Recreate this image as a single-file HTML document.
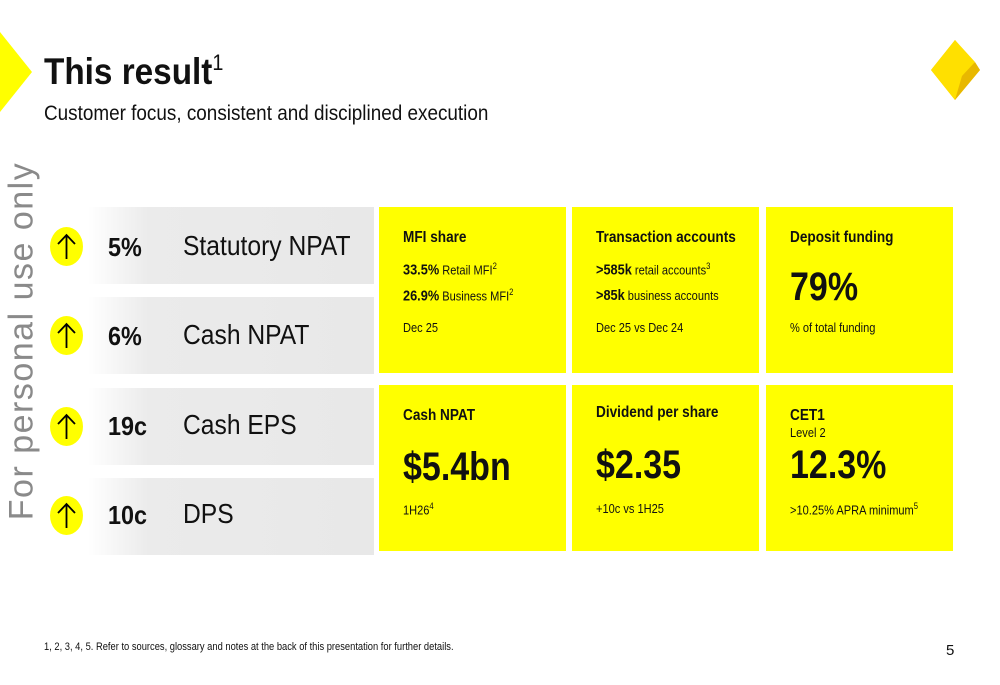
<!DOCTYPE html>
<html><head><meta charset="utf-8"><style>
body{margin:0;width:1000px;height:685px;background:#fff;position:relative;overflow:hidden;font-family:"Liberation Sans",sans-serif;color:#111}
.abs{position:absolute}
.row{position:absolute;left:88px;width:286px;height:77px;background:linear-gradient(90deg,#fff 0px,#ebebeb 60px,#e8e8e8 100%)}
.circ{position:absolute;left:50px;width:33px;height:39px}
.num{position:absolute;left:108px;font-weight:bold;font-size:26px;transform:scaleX(.9);transform-origin:left}
.lab{position:absolute;left:183px;font-size:28px;transform:scaleX(.88);transform-origin:left;color:#111}
.card{position:absolute;background:#ffff00;width:187px;height:166px}
.card div{white-space:nowrap;transform:scaleX(.85);transform-origin:left}
.card .t{position:absolute;left:24px;top:22px;font-weight:bold;font-size:16px}
.card .s{position:absolute;left:24px;font-size:13px}
.big{position:absolute;left:24px;font-weight:bold;font-size:40px}
sup{font-size:9px}
</style></head><body>
<svg class="abs" style="left:0;top:0" width="1000" height="130">
<polygon points="0,32 32,72 0,112" fill="#ffff00"/>
<polygon points="955,40 980,70 955,100 931,70" fill="#ffd400"/>
<polygon points="955,40 931,70 955,100 962,76 975,62" fill="#ffe000"/>
<polygon points="975,62 962,76 955,100 980,70" fill="#e8b800"/>
</svg>
<div class="abs" style="left:44px;top:50px;font-size:37px;font-weight:bold;transform:scaleX(.9);transform-origin:left">This result<sup style="font-size:22px;font-weight:normal;vertical-align:14px">1</sup></div>
<div class="abs" style="left:44px;top:102px;font-size:21px;transform:scaleX(.9);transform-origin:left">Customer focus, consistent and disciplined execution</div>
<div class="abs" style="left:22px;top:341px;font-size:34px;color:#8a8a8a;white-space:nowrap;transform:translate(-50%,-50%) rotate(-90deg);letter-spacing:1.5px">For personal use only</div>

<div class="row" style="top:207px"></div>
<div class="row" style="top:297px"></div>
<div class="row" style="top:388px"></div>
<div class="row" style="top:478px"></div>
<svg class="circ" style="top:227px" viewBox="0 0 33 39"><ellipse cx="16.5" cy="19.5" rx="16.5" ry="19.5" fill="#ff0"/><path d="M16.5 32V8M8 17L16.5 8 25 17" stroke="#000" stroke-width="1.8" fill="none"/></svg>
<svg class="circ" style="top:316px" viewBox="0 0 33 39"><ellipse cx="16.5" cy="19.5" rx="16.5" ry="19.5" fill="#ff0"/><path d="M16.5 32V8M8 17L16.5 8 25 17" stroke="#000" stroke-width="1.8" fill="none"/></svg>
<svg class="circ" style="top:407px" viewBox="0 0 33 39"><ellipse cx="16.5" cy="19.5" rx="16.5" ry="19.5" fill="#ff0"/><path d="M16.5 32V8M8 17L16.5 8 25 17" stroke="#000" stroke-width="1.8" fill="none"/></svg>
<svg class="circ" style="top:496px" viewBox="0 0 33 39"><ellipse cx="16.5" cy="19.5" rx="16.5" ry="19.5" fill="#ff0"/><path d="M16.5 32V8M8 17L16.5 8 25 17" stroke="#000" stroke-width="1.8" fill="none"/></svg>
<div class="num" style="top:232px">5%</div>
<div class="num" style="top:321px">6%</div>
<div class="num" style="top:411px">19c</div>
<div class="num" style="top:500px">10c</div>
<div class="lab" style="top:230px">Statutory NPAT</div>
<div class="lab" style="top:319px">Cash NPAT</div>
<div class="lab" style="top:409px">Cash EPS</div>
<div class="lab" style="top:498px">DPS</div>

<div class="card" style="left:379px;top:207px">
<div class="t">MFI share</div>
<div class="s" style="top:54px"><b style="font-size:15px">33.5%</b> Retail MFI<sup>2</sup></div>
<div class="s" style="top:80px"><b style="font-size:15px">26.9%</b> Business MFI<sup>2</sup></div>
<div class="s" style="top:113px">Dec 25</div></div>
<div class="card" style="left:572px;top:207px">
<div class="t">Transaction accounts</div>
<div class="s" style="top:54px"><b style="font-size:15px">&gt;585k</b> retail accounts<sup>3</sup></div>
<div class="s" style="top:80px"><b style="font-size:15px">&gt;85k</b> business accounts</div>
<div class="s" style="top:113px">Dec 25 vs Dec 24</div></div>
<div class="card" style="left:766px;top:207px">
<div class="t">Deposit funding</div>
<div class="big" style="top:58px">79%</div>
<div class="s" style="top:113px">% of total funding</div></div>

<div class="card" style="left:379px;top:385px">
<div class="t">Cash NPAT</div>
<div class="big" style="top:60px">$5.4bn</div>
<div class="s" style="top:116px">1H26<sup>4</sup></div></div>
<div class="card" style="left:572px;top:385px">
<div class="t" style="top:19px">Dividend per share</div>
<div class="big" style="top:58px">$2.35</div>
<div class="s" style="top:116px">+10c vs 1H25</div></div>
<div class="card" style="left:766px;top:385px">
<div class="t">CET1</div>
<div class="s" style="top:40px">Level 2</div>
<div class="big" style="top:58px">12.3%</div>
<div class="s" style="top:116px">&gt;10.25% APRA minimum<sup>5</sup></div></div>

<div class="abs" style="left:44px;top:641px;font-size:11px;white-space:nowrap;transform:scaleX(.85);transform-origin:left">1, 2, 3, 4, 5. Refer to sources, glossary and notes at the back of this presentation for further details.</div>
<div class="abs" style="left:946px;top:642px;font-size:15px">5</div>
</body></html>
